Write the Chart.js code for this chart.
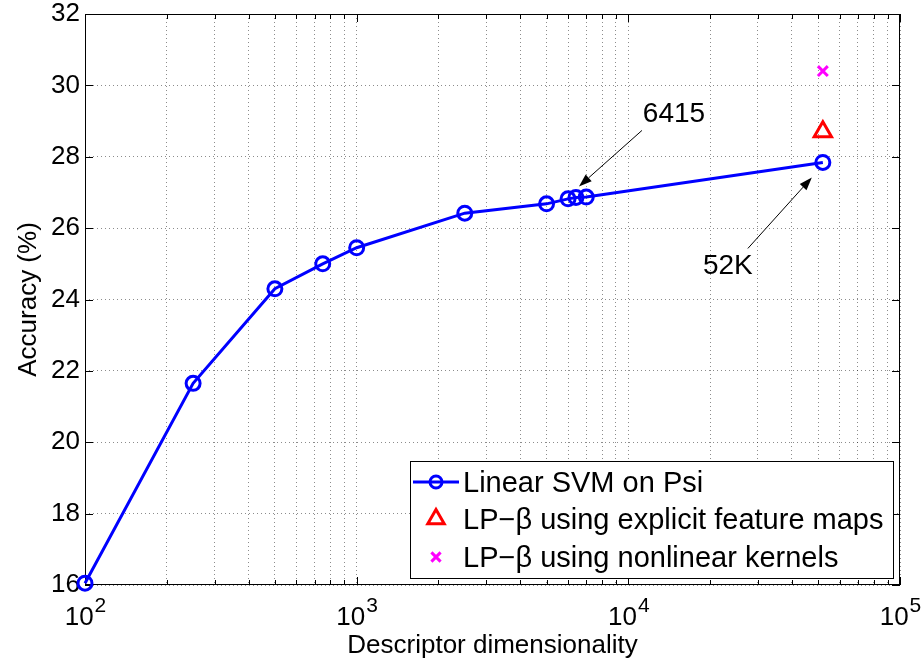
<!DOCTYPE html>
<html>
<head>
<meta charset="utf-8">
<script src="https://cdn.jsdelivr.net/npm/chart.js@4.4.1/dist/chart.umd.min.js"></script>
<style>
  body { margin: 0; background: #fff; }
  canvas { display: block; }
</style>
</head>
<body>
<canvas id="accuracyChart" width="922" height="661"></canvas>
<script>
// descriptor size vs. accuracy, linear SVM on Psi
const dims = [100, 250, 500, 750, 1000, 2500, 5000, 6000, 6415, 7000, 52000];
const svmAcc = [16.05, 21.65, 24.3, 25.0, 25.45, 26.42, 26.68, 26.82, 26.86, 26.87, 27.84];

// LP-beta results, only run at the full 52K size
const lpExplicitDims = [52000];
const lpExplicitAcc = [28.7];
const lpKernelDims = [52000];
const lpKernelAcc = [30.4];

const seriesNames = [
    'Linear SVM on Psi',
    'LP\u2212\u03B2 using explicit feature maps',
    'LP\u2212\u03B2 using nonlinear kernels',
];

const xTicks = [100, 200, 300, 400, 500, 600, 700, 800, 900,
    1000, 2000, 3000, 4000, 5000, 6000, 7000, 8000, 9000,
    10000, 20000, 30000, 40000, 50000, 60000, 70000, 80000, 90000, 100000];
const xMajor = [100, 1000, 10000, 100000];
const yTicks = [16, 18, 20, 22, 24, 26, 28, 30, 32];

// arrows pointing at two of the svm points
const callouts = [
    { text: '6415', dim: 6415 },
    { text: '52K', dim: 52000 },
];

const FONT = '"Liberation Sans", Arial, Helvetica, sans-serif';
Chart.defaults.font.family = FONT;
Chart.defaults.color = '#000';

const BLUE = '#0000ff';
const RED = '#ff0000';
const MAGENTA = '#ff00ff';

function toPoints(xs, ys) {
    return xs.map((x, i) => ({ x: x, y: ys[i] }));
}

function drawArrow(ctx, x1, y1, x2, y2) {
    const a = Math.atan2(y2 - y1, x2 - x1);
    const len = 13, half = 4.5;
    const bx = x2 - Math.cos(a) * len, by = y2 - Math.sin(a) * len;
    ctx.beginPath();
    ctx.moveTo(x1, y1);
    ctx.lineTo(bx, by);
    ctx.stroke();
    ctx.beginPath();
    ctx.moveTo(x2, y2);
    ctx.lineTo(bx + half * Math.sin(a), by - half * Math.cos(a));
    ctx.lineTo(bx - half * Math.sin(a), by + half * Math.cos(a));
    ctx.closePath();
    ctx.fill();
}

// box, inward ticks and the 10^n labels
const axesBox = {
    id: 'axesBox',
    beforeDatasetsDraw(chart) {
        const { ctx, chartArea: a, scales } = chart;
        ctx.save();
        ctx.strokeStyle = '#000';
        ctx.lineWidth = 1;
        ctx.strokeRect(a.left + 0.5, a.top + 0.5, a.right - a.left - 1, a.bottom - a.top - 1);
        ctx.beginPath();
        xTicks.forEach(v => {
            const x = Math.round(scales.x.getPixelForValue(v)) + 0.5;
            const len = xMajor.includes(v) ? 8 : 5;
            ctx.moveTo(x, a.bottom); ctx.lineTo(x, a.bottom - len);
            ctx.moveTo(x, a.top); ctx.lineTo(x, a.top + len);
        });
        yTicks.forEach(v => {
            const y = Math.round(scales.y.getPixelForValue(v)) + 0.5;
            ctx.moveTo(a.left, y); ctx.lineTo(a.left + 8, y);
            ctx.moveTo(a.right, y); ctx.lineTo(a.right - 8, y);
        });
        ctx.stroke();
        ctx.restore();
    },
    afterDraw(chart) {
        const { ctx, chartArea: a, scales } = chart;
        ctx.save();
        ctx.fillStyle = '#000';
        ctx.textBaseline = 'alphabetic';
        xMajor.forEach(v => {
            const x = scales.x.getPixelForValue(v);
            const exp = String(Math.round(Math.log10(v)));
            ctx.font = '26px ' + FONT;
            const wBase = ctx.measureText('10').width;
            ctx.font = '21px ' + FONT;
            const wExp = ctx.measureText(exp).width;
            const start = x - (wBase + wExp) / 2;
            ctx.font = '26px ' + FONT;
            ctx.textAlign = 'left';
            ctx.fillText('10', start, a.bottom + 40);
            ctx.font = '21px ' + FONT;
            ctx.fillText(exp, start + wBase + 1, a.bottom + 27);
        });
        ctx.restore();
    },
};

// text + arrow callouts
const callout = {
    id: 'callout',
    afterDatasetsDraw(chart) {
        const { ctx, scales } = chart;
        // tail, tip and label offsets from the target point
        const offsets = {
            '6415': { tail: [66, -67], tip: [3, -11], label: [98, -83] },
            '52K': { tail: [-75, 86], tip: [-11, 15], label: [-95, 104] },
        };
        ctx.save();
        ctx.strokeStyle = '#000';
        ctx.fillStyle = '#000';
        ctx.lineWidth = 1;
        callouts.forEach(c => {
            const i = dims.indexOf(c.dim);
            const px = scales.x.getPixelForValue(dims[i]);
            const py = scales.y.getPixelForValue(svmAcc[i]);
            const o = offsets[c.text];
            drawArrow(ctx, px + o.tail[0], py + o.tail[1], px + o.tip[0], py + o.tip[1]);
            ctx.font = '28px ' + FONT;
            ctx.textAlign = 'center';
            ctx.textBaseline = 'middle';
            ctx.fillText(c.text, px + o.label[0], py + o.label[1]);
        });
        ctx.restore();
    },
};

// legend box in the lower right corner
const boxLegend = {
    id: 'boxLegend',
    afterDraw(chart) {
        const { ctx, chartArea: a } = chart;
        const left = a.left + 325, top = a.bottom - 124, right = a.right - 7, bottom = a.bottom - 7;
        ctx.save();
        ctx.fillStyle = '#fff';
        ctx.fillRect(left, top, right - left, bottom - top);
        ctx.strokeStyle = '#000';
        ctx.lineWidth = 1;
        ctx.strokeRect(left + 0.5, top + 0.5, right - left, bottom - top);

        const rows = [top + 21, top + 58, top + 96];
        const mx = left + 26;
        chart.data.datasets.forEach((ds, i) => {
            const y = rows[i];
            ctx.strokeStyle = ds.borderColor;
            ctx.fillStyle = 'rgba(0,0,0,0)';
            if (ds.showLine) {
                ctx.lineWidth = ds.borderWidth;
                ctx.beginPath();
                ctx.moveTo(left + 3, y);
                ctx.lineTo(left + 49, y);
                ctx.stroke();
            }
            Chart.helpers.drawPoint(ctx, {
                pointStyle: ds.pointStyle,
                radius: ds.legendRadius,
                rotation: 0,
                borderWidth: ds.pointBorderWidth,
            }, mx, y);
            ctx.fillStyle = '#000';
            ctx.font = '29px ' + FONT;
            ctx.textAlign = 'left';
            ctx.textBaseline = 'alphabetic';
            ctx.fillText(ds.label, left + 53, y + 10);
        });
        ctx.restore();
    },
};

const gridStyle = {
    color: 'rgba(0,0,0,0.45)',
    lineWidth: 1,
    drawTicks: false,
};

new Chart(document.getElementById('accuracyChart').getContext('2d'), {
    type: 'scatter',
    data: {
        datasets: [
            {
                label: seriesNames[0],
                data: toPoints(dims, svmAcc),
                showLine: true,
                borderColor: BLUE,
                backgroundColor: 'rgba(0,0,0,0)',
                borderWidth: 3,
                pointStyle: 'circle',
                pointRadius: 7,
                pointBorderWidth: 3,
                pointBorderColor: BLUE,
                pointBackgroundColor: 'rgba(0,0,0,0)',
                legendRadius: 6,
                clip: false,
            },
            {
                label: seriesNames[1],
                data: toPoints(lpExplicitDims, lpExplicitAcc),
                showLine: false,
                borderColor: RED,
                backgroundColor: 'rgba(0,0,0,0)',
                pointStyle: 'triangle',
                pointRadius: 10,
                pointBorderWidth: 3,
                legendRadius: 9.5,
                clip: false,
            },
            {
                label: seriesNames[2],
                data: toPoints(lpKernelDims, lpKernelAcc),
                showLine: false,
                borderColor: MAGENTA,
                backgroundColor: 'rgba(0,0,0,0)',
                pointStyle: 'crossRot',
                pointRadius: 7,
                pointBorderWidth: 3,
                legendRadius: 6.5,
                clip: false,
            },
        ],
    },
    options: {
        responsive: false,
        animation: false,
        layout: { padding: { top: 14, right: 22, left: 0, bottom: 0 } },
        plugins: {
            legend: { display: false },
            tooltip: { enabled: false },
        },
        scales: {
            x: {
                type: 'logarithmic',
                min: 100,
                max: 100000,
                afterBuildTicks: (scale) => {
                    scale.ticks = xTicks.map(v => ({ value: v, major: xMajor.includes(v) }));
                },
                afterFit: (scale) => {
                    scale.height = 76;
                    scale.paddingLeft = 0;
                    scale.paddingRight = 0;
                },
                ticks: { display: false },
                grid: gridStyle,
                border: { display: false, dash: [1, 3] },
                title: {
                    display: true,
                    text: 'Descriptor dimensionality',
                    font: { size: 26 },
                    padding: { top: 0, bottom: 0 },
                },
            },
            y: {
                min: 16,
                max: 32,
                afterBuildTicks: (scale) => {
                    scale.ticks = yTicks.map(v => ({ value: v }));
                },
                afterFit: (scale) => {
                    scale.width = 85;
                    scale.paddingTop = 0;
                    scale.paddingBottom = 0;
                },
                ticks: {
                    font: { size: 26, lineHeight: 1 },
                    padding: 5,
                },
                grid: gridStyle,
                border: { display: false, dash: [1, 3] },
                title: {
                    display: true,
                    text: 'Accuracy (%)',
                    font: { size: 26 },
                    padding: { top: 13, bottom: 0 },
                },
            },
        },
    },
    plugins: [axesBox, callout, boxLegend],
});
</script>
</body>
</html>
